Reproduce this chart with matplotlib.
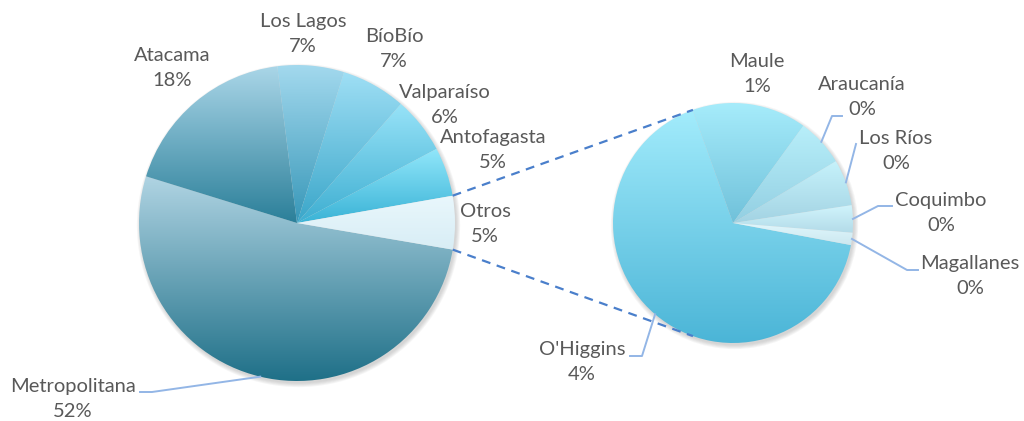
import numpy as np
import matplotlib.pyplot as plt
from matplotlib.colors import to_rgb
from matplotlib.patches import Circle

plt.rcParams['font.family'] = ['Lato', 'DejaVu Sans']

# pie principal
regiones = ['Metropolitana', 'Atacama', 'Los Lagos', 'BíoBío', 'Valparaíso', 'Antofagasta', 'Otros']
# pie secundario = desglose de "Otros"
otras = ["O'Higgins", 'Maule', 'Araucanía', 'Los Ríos', 'Coquimbo', 'Magallanes']
otras_val = [3.63, 0.84, 0.35, 0.34, 0.20, 0.09]
principal_val = [52.0, 18.2, 6.8, 6.6, 5.8, 5.0, sum(otras_val)]

# colores degradado (arriba, abajo)
col_top = ['#b0d4e3', '#aad6e8', '#a3d9ee', '#9fdff5', '#98e3f8', '#92e7fb', '#e9f7fc']
col_bot = ['#1f7088', '#2b7f99', '#3797b8', '#3aa6c9', '#3eaed1', '#3ab3d6', '#d8edf5']
col2_top = ['#a3ecfc', '#a6ecfb', '#b8effa', '#c6f2fb', '#d0f4fc', '#e0f7fc']
col2_bot = ['#4bb5d7', '#70c1da', '#93cfe2', '#a3d3e3', '#b3dbe8', '#cce8f0']

W, H = 1024, 421
fig = plt.figure(figsize=(W / 100, H / 100), dpi=100)
ax = fig.add_axes([0, 0, 1, 1])

c1, r1 = (297, H - 223), 158
c2, r2 = (733, H - 223), 120
total = sum(principal_val)


def degradado(wedge, c_top, c_bot):
    bb = wedge.get_path().get_extents()
    t = np.linspace(0, 1, 256)[:, None, None]
    top, bot = np.array(to_rgb(c_top)), np.array(to_rgb(c_bot))
    img = bot + (top - bot) * t
    im = ax.imshow(img, extent=(bb.x0, bb.x1, bb.y0, bb.y1), origin='lower',
                   aspect='auto', zorder=3, interpolation='bilinear')
    im.set_clip_path(wedge)


def sombra(c, r):
    for k in range(5):
        ax.add_patch(Circle((c[0] + 1.5, c[1] - 2.5), r + k * 0.9,
                            color='#7f7f7f', alpha=0.07, lw=0, zorder=1))


sombra(c1, r1)
sombra(c2, r2)

w1, _ = ax.pie(principal_val, center=c1, radius=r1, startangle=-9.7, counterclock=False,
               wedgeprops=dict(facecolor='none', edgecolor='none', zorder=2))
w2, _ = ax.pie(otras_val, center=c2, radius=r2, startangle=-10.6, counterclock=False,
               wedgeprops=dict(facecolor='none', edgecolor='none', zorder=2))
for w, a, b in zip(w1, col_top, col_bot):
    degradado(w, a, b)
for w, a, b in zip(w2, col2_top, col2_bot):
    degradado(w, a, b)


def punto(c, r, ang):
    return c[0] + r * np.cos(np.radians(ang)), c[1] + r * np.sin(np.radians(ang))


# lineas de conexion (Otros -> pie secundario)
otros = w1[-1]
for a1, a2 in [(otros.theta2, 109.5), (otros.theta1, -109.5)]:
    p, q = punto(c1, r1, a1), punto(c2, r2, a2)
    ax.plot([p[0], q[0]], [p[1], q[1]], color='#4a7fcb', lw=1.6, ls=(0, (4, 3)), zorder=4)

# etiquetas
pos1 = [(73, 399), (172, 68), (303, 34), (394, 49), (445, 105), (493, 150), (485, 224)]
pos2 = [(582, 362), (757, 74), (862, 97), (896, 151), (941, 213), (970, 276)]
txt = dict(ha='center', va='center', fontsize=14.5, color='#595959', linespacing=1.6, zorder=5)
for nom, v, (x, y) in zip(regiones, principal_val, pos1):
    ax.text(x, H - y, f'{nom}\n{round(v / total * 100)}%', **txt)
for nom, v, (x, y) in zip(otras, otras_val, pos2):
    ax.text(x, H - y, f'{nom}\n{round(v / total * 100)}%', **txt)

# lineas guia
guias = [
    (w1[0], c1, r1, [(152, 392), (140, 392)]),
    (w2[0], c2, r2, [(642, 356), (630, 356)]),
    (w2[2], c2, r2, [(832, 116), (842, 116)]),
    (w2[3], c2, r2, [(856, 144)]),
    (w2[4], c2, r2, [(878, 206), (892, 206)]),
    (w2[5], c2, r2, [(907, 270), (918, 270)]),
]
for w, c, r, pts in guias:
    p = punto(c, r, (w.theta1 + w.theta2) / 2)
    xs = [p[0]] + [x for x, _ in pts]
    ys = [p[1]] + [H - y for _, y in pts]
    ax.plot(xs, ys, color='#93b6e6', lw=1.4, zorder=4)

ax.set_xlim(0, W)
ax.set_ylim(0, H)
ax.set_aspect('auto')
ax.axis('off')
fig.savefig('out.png', dpi=100)
